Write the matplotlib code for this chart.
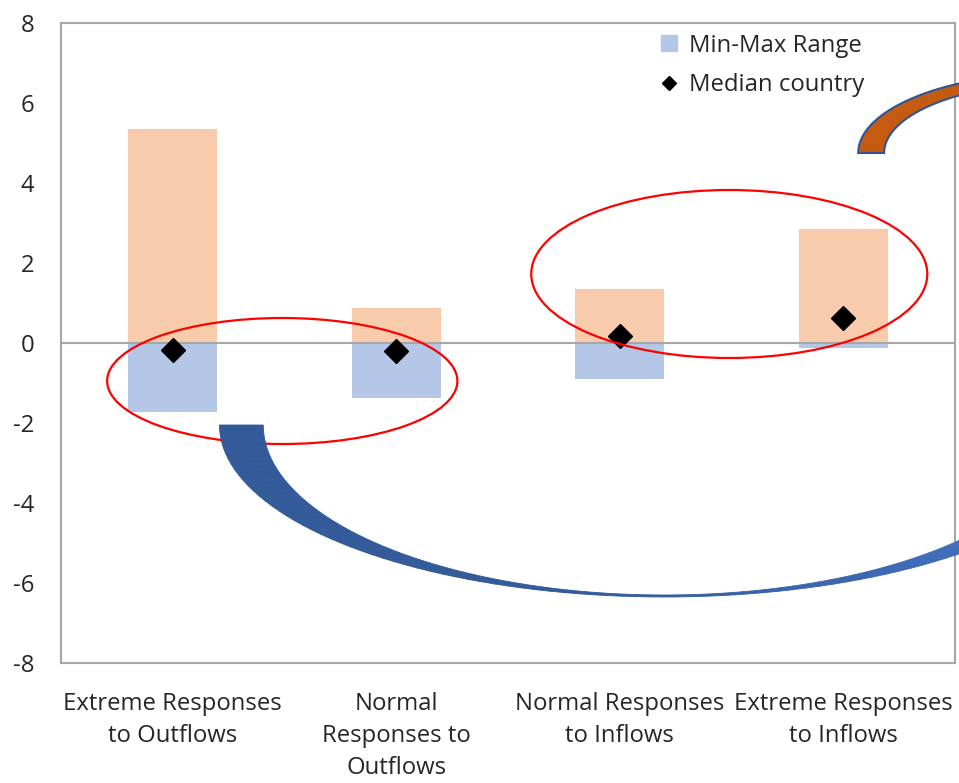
import matplotlib.pyplot as plt
import numpy as np
from matplotlib.patches import Ellipse, Polygon
from matplotlib.lines import Line2D

plt.rcParams['font.family'] = ['Open Sans', 'DejaVu Sans']
plt.rcParams['axes.unicode_minus'] = False

categories = ["Extreme Responses\nto Outflows", "Normal\nResponses to\nOutflows",
              "Normal Responses\nto Inflows", "Extreme Responses\nto Inflows"]
max_vals = [5.35, 0.87, 1.35, 2.85]
min_vals = [-1.72, -1.38, -0.90, -0.13]
medians = [-0.17, -0.20, 0.18, 0.62]

orange = "#F8CBAD"
blue = "#B4C7E7"
grey = "#A6A6A6"
txt = "#262626"

fig = plt.figure(figsize=(9.59, 7.83), dpi=100)
ax = fig.add_axes([61 / 959, 1 - 663 / 783, 894 / 959, 640 / 783])

x = np.arange(len(categories))
ax.bar(x, max_vals, width=0.4, color=orange, zorder=2)
ax.bar(x, min_vals, width=0.4, color=blue, zorder=2)
ax.axhline(0, color=grey, lw=1.5, zorder=3)
ax.plot(x, medians, 'D', color='black', markersize=12, zorder=4)

ax.set_xlim(-0.5, 3.5)
ax.set_ylim(-8, 8)
ax.set_yticks(np.arange(-8, 9, 2))
ax.set_xticks(x)
ax.set_xticklabels(categories, fontsize=17.2, linespacing=1.45, color=txt)
ax.tick_params(axis='y', length=0, pad=19, labelsize=17.2, labelcolor=txt)
ax.tick_params(axis='x', length=0, pad=21)
for s in ax.spines.values():
    s.set_color(grey)
    s.set_linewidth(1.5)

# red ellipses
ax.add_patch(Ellipse((0.49, -0.95), 1.567, 3.15, fill=False, ec='red', lw=1.6, zorder=5, clip_on=False))
ax.add_patch(Ellipse((2.49, 1.725), 1.772, 4.2, fill=False, ec='red', lw=1.6, zorder=5, clip_on=False))

# blue curved arrow (tapered band), lighter toward the right
cx, cy = 2.20, -2.05
th = np.radians(np.linspace(180, 328, 80))
xo, yo = cx + 1.991 * np.cos(th), cy + 4.30 * np.sin(th)
xi, yi = cx + 1.795 * np.cos(th), cy + 4.25 * np.sin(th)
c0 = np.array([0x33, 0x5A, 0x99]) / 255
c1 = np.array([0x44, 0x72, 0xC4]) / 255
for k in range(len(th) - 1):
    f = max(0.0, (k / (len(th) - 2) - 0.55) / 0.45)
    col = c0 * (1 - f) + c1 * f
    pts = [(xo[k], yo[k]), (xo[k + 1], yo[k + 1]), (xi[k + 1], yi[k + 1]), (xi[k], yi[k])]
    ax.add_patch(Polygon(pts, closed=True, fc=col, ec=col, lw=0.6, zorder=6, clip_on=False))

# orange curved arrow
ox, oy = 3.96, 4.75
th2 = np.radians(np.linspace(180, 100, 60))
outer = np.column_stack([ox + 0.893 * np.cos(th2), oy + 2.0 * np.sin(th2)])
inner = np.column_stack([ox + 0.777 * np.cos(th2[::-1]), oy + 1.75 * np.sin(th2[::-1])])
ax.add_patch(Polygon(np.vstack([outer, inner]), closed=True, fc="#C55A11", ec="#2F5597",
                     lw=1.5, zorder=6, clip_on=False))

handles = [Line2D([], [], marker='s', ls='', color=blue, markersize=11),
           Line2D([], [], marker='D', ls='', color='black', markersize=7)]
ax.legend(handles, ["Min-Max Range", "Median country"], loc='upper left',
          bbox_to_anchor=(650 / 959, 1 - 24 / 783), bbox_transform=fig.transFigure,
          frameon=False, fontsize=17.2, handlelength=0.8, handletextpad=0.45,
          labelspacing=0.65, labelcolor=txt, borderaxespad=0, borderpad=0.4)

fig.savefig("out.png", dpi=100)
